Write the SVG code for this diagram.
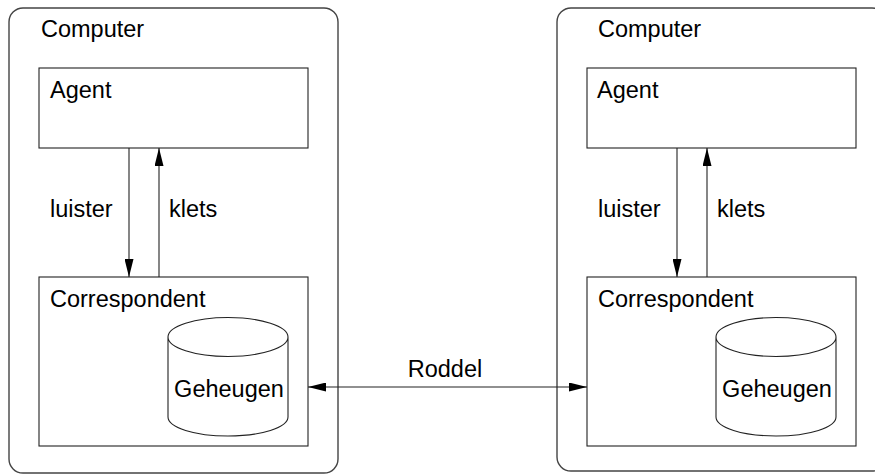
<svg xmlns="http://www.w3.org/2000/svg" width="875" height="475" viewBox="0 0 875 475">
  <style>
    .frame { fill: none; stroke: #444; stroke-width: 1.4; }
    .box { fill: #fff; stroke: #222; stroke-width: 1.1; }
    .db { fill: #fff; stroke: #222; stroke-width: 1.1; }
    .link { fill: none; stroke: #222; stroke-width: 1.1; }
    text { font-family: "Liberation Sans", Arial, sans-serif; font-size: 23.5px; fill: #000; }
  </style>
  <defs>
    <marker id="head" viewBox="0 0 18 9" refX="18" refY="4.5" markerWidth="18" markerHeight="9" markerUnits="userSpaceOnUse" orient="auto-start-reverse">
      <path d="M0,0 L18,4.5 L0,9 Z" fill="#000"/>
    </marker>
  </defs>

  <!-- left computer -->
  <g id="computer-left">
    <rect class="frame" x="9" y="8" width="329" height="465" rx="14" ry="14"/>
    <text x="41" y="37">Computer</text>
  </g>
  <g id="agent-left">
    <rect class="box" x="39" y="68" width="269" height="80"/>
    <text x="50" y="98">Agent</text>
  </g>
  <g id="correspondent-left">
    <rect class="box" x="39" y="277" width="269" height="169"/>
    <text x="50" y="307">Correspondent</text>
  </g>
  <g id="geheugen-left">
    <path class="db" d="M168,337 L168,417 A60,19 0 0 0 288,417 L288,337 A60,19.5 0 0 0 168,337 A60,19.5 0 0 0 288,337"/>
    <text x="229" y="397" text-anchor="middle">Geheugen</text>
  </g>

  <!-- right computer -->
  <g id="computer-right">
    <rect class="frame" x="557" y="8" width="329" height="463" rx="14" ry="14"/>
    <text x="598" y="37">Computer</text>
  </g>
  <g id="agent-right">
    <rect class="box" x="587" y="68" width="269" height="80"/>
    <text x="597" y="98">Agent</text>
  </g>
  <g id="correspondent-right">
    <rect class="box" x="587" y="277" width="269" height="169"/>
    <text x="598" y="307">Correspondent</text>
  </g>
  <g id="geheugen-right">
    <path class="db" d="M716,337 L716,417 A60,19 0 0 0 836,417 L836,337 A60,19.5 0 0 0 716,337 A60,19.5 0 0 0 836,337"/>
    <text x="777" y="397" text-anchor="middle">Geheugen</text>
  </g>

  <!-- connectors -->
  <g id="connectors">
    <line class="link" x1="129" y1="148" x2="129" y2="277" marker-end="url(#head)"/>
    <line class="link" x1="159" y1="277" x2="159" y2="148" marker-end="url(#head)"/>
    <line class="link" x1="677" y1="148" x2="677" y2="277" marker-end="url(#head)"/>
    <line class="link" x1="707" y1="277" x2="707" y2="148" marker-end="url(#head)"/>
    <line class="link" x1="308" y1="387" x2="587" y2="387" marker-start="url(#head)" marker-end="url(#head)"/>
    <text x="50" y="217">luister</text>
    <text x="169" y="217">klets</text>
    <text x="598" y="217">luister</text>
    <text x="717" y="217">klets</text>
    <text x="445" y="377" text-anchor="middle">Roddel</text>
  </g>
</svg>
